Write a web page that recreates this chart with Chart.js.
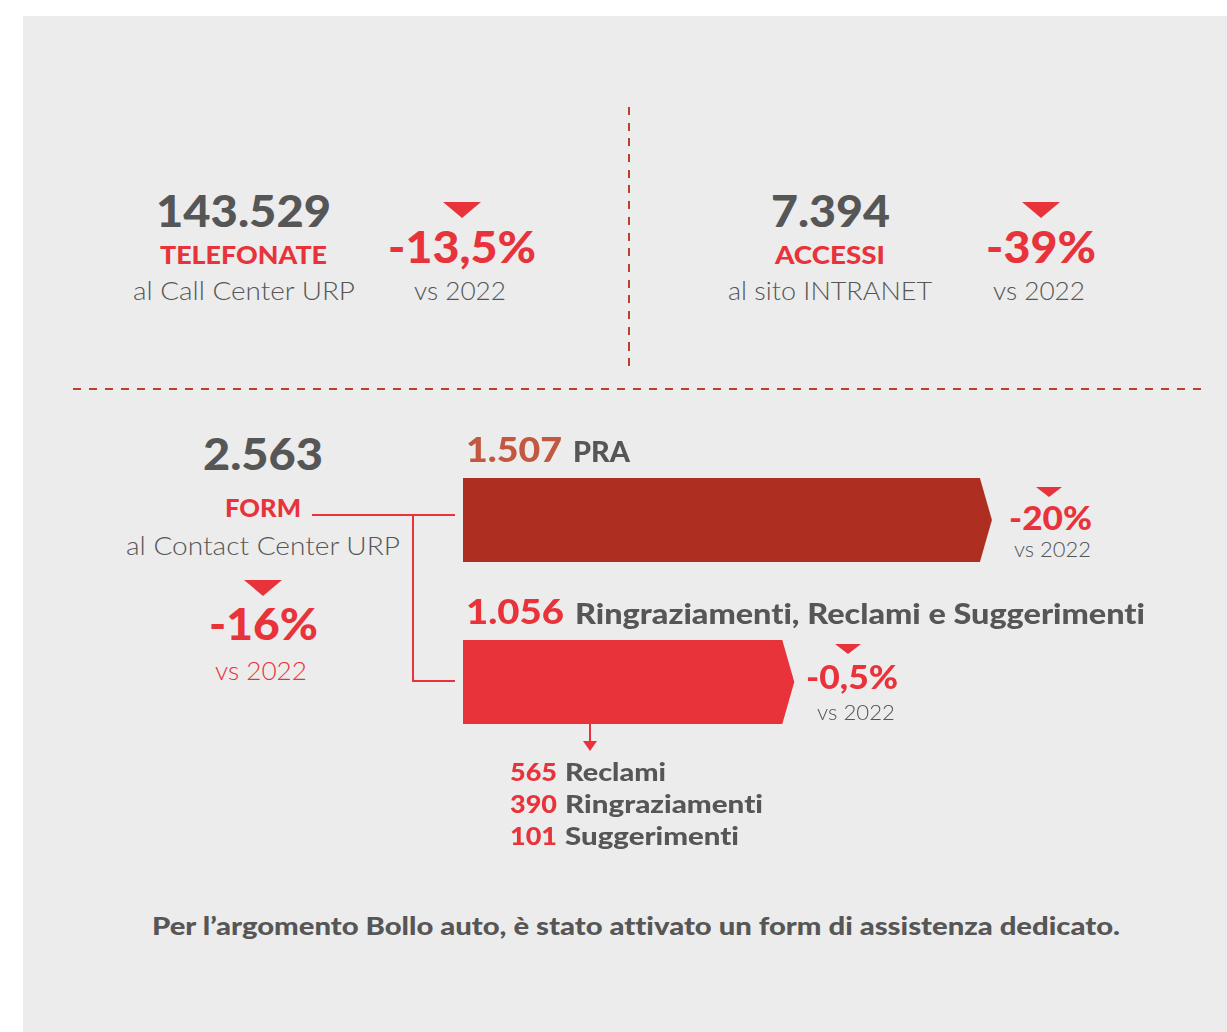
<!DOCTYPE html>
<html lang="it">
<head>
<meta charset="utf-8">
<title>Contact Center URP</title>
<script src="https://cdn.jsdelivr.net/npm/chart.js@4.4.1/dist/chart.umd.min.js"></script>
<style>
  html, body { margin: 0; padding: 0; background: #ffffff; }
  body { width: 1227px; height: 1032px; position: relative; overflow: hidden; font-family: Lato, "Open Sans", sans-serif; }
  #panel { position: absolute; left: 23px; top: 16px; width: 1204px; height: 1016px; background: #ececec; }
  .t { position: absolute; white-space: nowrap; line-height: 1; transform-origin: 0 0; font-variant-ligatures: none; font-feature-settings: "liga" 0, "clig" 0; }
  .tri { position: absolute; width: 0; height: 0; border-left-style: solid; border-right-style: solid; border-top-style: solid; border-left-color: transparent; border-right-color: transparent; }
  .dashH { position: absolute; height: 2px; background: repeating-linear-gradient(to right, #b8402f 0 8px, transparent 8px 16px); }
  .dashV { position: absolute; width: 2px; background: repeating-linear-gradient(to bottom, #b8402f 0 8px, transparent 8px 15.7px); }
  .ln { position: absolute; background: #e8333b; }
  #barWrap { position: absolute; left: 463px; top: 439px; width: 539px; height: 324px; }
</style>
</head>
<body>
<div id="panel"></div>
<div class="dashV" style="left:628px; top:107px; height:260px;"></div>
<div class="dashH" style="left:73px; top:388px; width:1128px;"></div>
<div class="ln" style="left:312px; top:514px; width:143px; height:2px;"></div>
<div class="ln" style="left:412px; top:514px; width:2px; height:168px;"></div>
<div class="ln" style="left:412px; top:680px; width:43px; height:2px;"></div>
<div class="ln" style="left:589px; top:724px; width:2px; height:18px;"></div>
<div class="tri" style="left:583px; top:741px; border-left-width:7px; border-right-width:7px; border-top-width:10px; border-top-color:#e8333b;"></div>
<div id="barWrap"><canvas id="bars" width="539" height="324"></canvas></div>
<div id="texts"></div>
<script>
// ---------- DATA ----------
const kpiValues    = [143529, 7394, 2563];
const kpiTitles    = ['TELEFONATE', 'ACCESSI', 'FORM'];
const kpiSubtitles = ['al Call Center URP', 'al sito INTRANET', 'al Contact Center URP'];
const kpiChanges   = ['-13,5%', '-39%', '-16%'];
const compareLabel = 'vs 2022';

const formCategories = ['PRA', 'Ringraziamenti, Reclami e Suggerimenti'];
const formValues     = [1507, 1056];
const formChanges    = ['-20%', '-0,5%'];

const detailLabels = ['Reclami', 'Ringraziamenti', 'Suggerimenti'];
const detailValues = [565, 390, 101];

const footNote = 'Per l\u2019argomento Bollo auto, è stato attivato un form di assistenza dedicato.';

// ---------- STYLE ----------
const RED = '#e8333b', DARK = '#565656', PRA_RED = '#ae2f22', PRA_TXT = '#c35841';
const barColors = [PRA_RED, RED];
const HEAVY = '900', BOLD = '900', LIGHT = '300';
const FAM = 'Lato, "Open Sans", sans-serif';

function fmt(n) { return String(n).replace(/\B(?=(\d{3})+(?!\d))/g, '.'); }

const mctx = document.createElement('canvas').getContext('2d');
function baselineOffset(weight, size) {
  mctx.font = weight + ' ' + size + 'px ' + FAM;
  const m = mctx.measureText('Hg');
  const A = m.fontBoundingBoxAscent, D = m.fontBoundingBoxDescent;
  return (size - (A + D)) / 2 + A;
}
const box = document.getElementById('texts');
// text label: x = centre (align 'center') or left edge; tw = width it spans in the layout
function label(text, color, weight, x, baseline, size, align, tw) {
  const d = document.createElement('div');
  d.className = 't';
  d.textContent = text;
  d.style.color = color;
  d.style.fontWeight = weight;
  d.style.fontSize = size + 'px';
  d.style.fontFamily = FAM;
  d.style.top = (baseline - baselineOffset(weight, size)) + 'px';
  box.appendChild(d);
  const w = d.getBoundingClientRect().width;
  const W = tw || w;
  d.style.transform = 'scaleX(' + (W / w) + ')';
  d.style.left = (align === 'center' ? x - W / 2 : x) + 'px';
  return d;
}
function tri(cx, top, w, h) {
  const d = document.createElement('div');
  d.className = 'tri';
  d.style.left = (cx - w / 2) + 'px';
  d.style.top = top + 'px';
  d.style.borderLeftWidth = (w / 2) + 'px';
  d.style.borderRightWidth = (w / 2) + 'px';
  d.style.borderTopWidth = h + 'px';
  d.style.borderTopColor = RED;
  box.appendChild(d);
}

// ---------- KPI BLOCKS ----------
// telefonate
label(fmt(kpiValues[0]), DARK, HEAVY, 243, 227, 44, 'center', 175);
label(kpiTitles[0], RED, HEAVY, 243, 264, 25, 'center', 167);
label(kpiSubtitles[0], DARK, LIGHT, 244, 300, 25, 'center', 222);
tri(462, 202, 38, 16);
label(kpiChanges[0], RED, HEAVY, 462, 263, 44, 'center', 148);
label(compareLabel, DARK, LIGHT, 460, 300, 25, 'center', 92);
// accessi
label(fmt(kpiValues[1]), DARK, HEAVY, 830, 227, 44, 'center', 119);
label(kpiTitles[1], RED, HEAVY, 830, 264, 25, 'center', 110);
label(kpiSubtitles[1], DARK, LIGHT, 830, 300, 25, 'center', 204);
tri(1041, 202, 38, 16);
label(kpiChanges[1], RED, HEAVY, 1041, 263, 44, 'center', 110);
label(compareLabel, DARK, LIGHT, 1039, 300, 25, 'center', 92);
// form
label(fmt(kpiValues[2]), DARK, HEAVY, 263, 470, 44, 'center', 120);
label(kpiTitles[2], RED, HEAVY, 263, 517, 25, 'center', 76);
label(kpiSubtitles[2], DARK, LIGHT, 263, 555, 25, 'center', 274);
tri(263, 580, 38, 16);
label(kpiChanges[2], RED, HEAVY, 263, 640, 44, 'center', 109);
label(compareLabel, RED, LIGHT, 261, 680, 25, 'center', 92);

// ---------- BAR LABELS ----------
label(fmt(formValues[0]), PRA_TXT, HEAVY, 466, 462, 34, 'left', 96);
label(formCategories[0], DARK, BOLD, 573, 462, 29, 'left', 57);
label(fmt(formValues[1]), RED, HEAVY, 466, 624, 34, 'left', 98);
label(formCategories[1], DARK, BOLD, 575, 624, 29, 'left', 570);
tri(1049, 487, 27, 10);
label(formChanges[0], RED, HEAVY, 1050, 530, 32, 'center', 83);
label(compareLabel, DARK, LIGHT, 1052, 557, 21, 'center', 77);
tri(848, 644, 27, 10);
label(formChanges[1], RED, HEAVY, 852, 689, 32, 'center', 92);
label(compareLabel, DARK, LIGHT, 856, 720, 21, 'center', 78);

const detailWordW = [101, 198, 174];
detailLabels.forEach((l, i) => {
  label(String(detailValues[i]), RED, HEAVY, 510, 781 + i * 32, 25, 'left', 47);
  label(l, DARK, BOLD, 565, 781 + i * 32, 25, 'left', detailWordW[i]);
});
label(footNote, DARK, BOLD, 636, 935, 25, 'center', 968);

// ---------- BARS (Chart.js) ----------
const ARROW = 12;
const arrowBars = {
  id: 'arrowBars',
  beforeDatasetDraw() { return false; },
  afterDatasetsDraw(chart) {
    const ctx = chart.ctx;
    chart.getDatasetMeta(0).data.forEach((el, i) => {
      const p = el.getProps(['x', 'y', 'base', 'height'], true);
      const h2 = p.height / 2;
      ctx.save();
      ctx.fillStyle = barColors[i];
      ctx.beginPath();
      ctx.moveTo(p.base, p.y - h2);
      ctx.lineTo(p.x - ARROW, p.y - h2);
      ctx.lineTo(p.x, p.y);
      ctx.lineTo(p.x - ARROW, p.y + h2);
      ctx.lineTo(p.base, p.y + h2);
      ctx.closePath();
      ctx.fill();
      ctx.restore();
    });
  }
};
new Chart(document.getElementById('bars'), {
  type: 'bar',
  data: {
    labels: formCategories,
    datasets: [{ data: formValues, backgroundColor: barColors, barThickness: 84, borderWidth: 0 }]
  },
  options: {
    indexAxis: 'y',
    responsive: false,
    animation: false,
    layout: { padding: 0 },
    plugins: { legend: { display: false }, tooltip: { enabled: false } },
    scales: {
      x: { display: false, min: 300, max: 1530 },
      y: { display: false }
    }
  },
  plugins: [arrowBars]
});
</script>
</body>
</html>
